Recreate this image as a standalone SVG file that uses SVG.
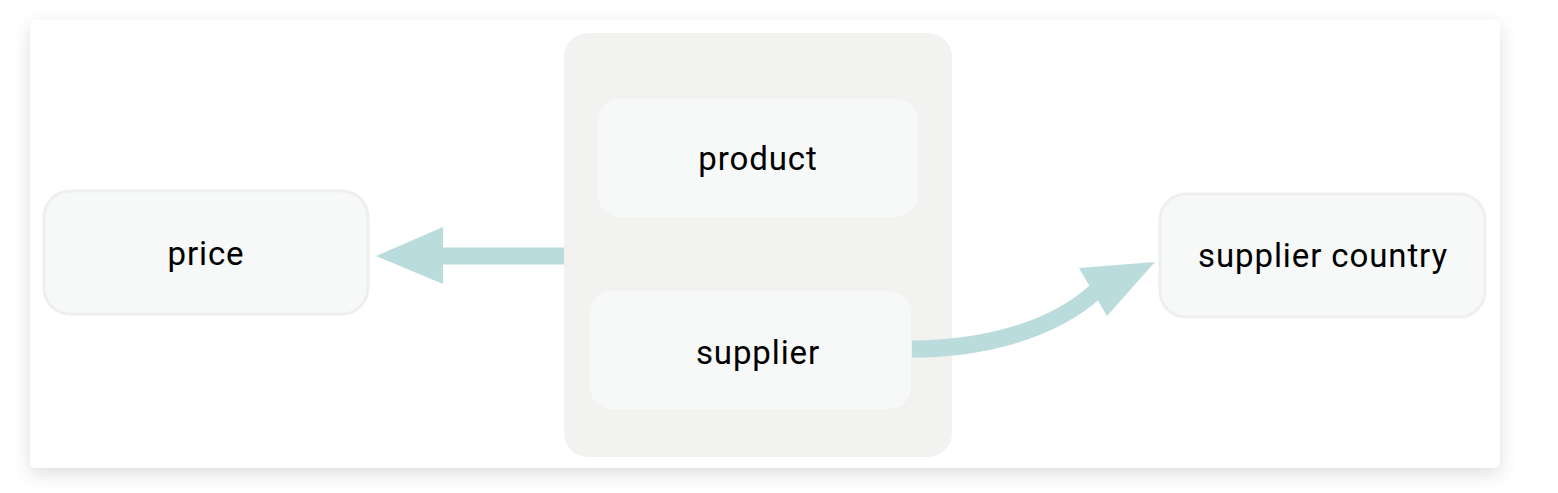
<svg xmlns="http://www.w3.org/2000/svg" width="1558" height="493" viewBox="0 0 1558 493">
<defs>
<filter id="sh" x="-5%" y="-10%" width="110%" height="130%">
<feDropShadow dx="0" dy="6" stdDeviation="9" flood-color="#000" flood-opacity="0.13"/>
</filter>
<style>
.lbl{font-family:Roboto,"Liberation Sans",sans-serif;font-size:33px;letter-spacing:0.9px;fill:#000;text-anchor:middle}
.node{fill:#f7f8f8}
.outer{fill:#f7f8f8;stroke:#efefee;stroke-width:3}
.edge{fill:none;stroke:#badcdd;stroke-width:17}
.head{fill:#badcdd}
</style>
</defs>
<rect x="0" y="0" width="1558" height="493" fill="#ffffff"/>
<rect x="30" y="20" width="1470" height="448" rx="6" fill="#ffffff" filter="url(#sh)"/>
<g id="group-supplier">
<rect x="564" y="33" width="388" height="424" rx="24" fill="#f2f2f1"/>
</g>
<g id="node-product">
<rect class="node" x="598" y="99" width="320" height="118" rx="22"/>
<text class="lbl" x="758" y="170">product</text>
</g>
<g id="node-supplier">
<rect class="node" x="590" y="291" width="321" height="118" rx="22"/>
<text class="lbl" x="758" y="364">supplier</text>
</g>
<g id="node-price">
<rect class="outer" x="44" y="191" width="324" height="123" rx="26"/>
<text class="lbl" x="206" y="265">price</text>
</g>
<g id="node-supplier-country">
<rect class="outer" x="1160" y="194" width="325" height="123" rx="26"/>
<text class="lbl" x="1323" y="267">supplier country</text>
</g>
<g id="connectors">
<path class="edge" d="M564,256 L440,256"/>
<polygon class="head" points="376,256 443,227 443,284"/>
<path class="edge" d="M912,349 C980,349 1050,332 1095,292"/>
<polygon class="head" points="1155,262 1079,268 1107,316"/>
</g>
</svg>
